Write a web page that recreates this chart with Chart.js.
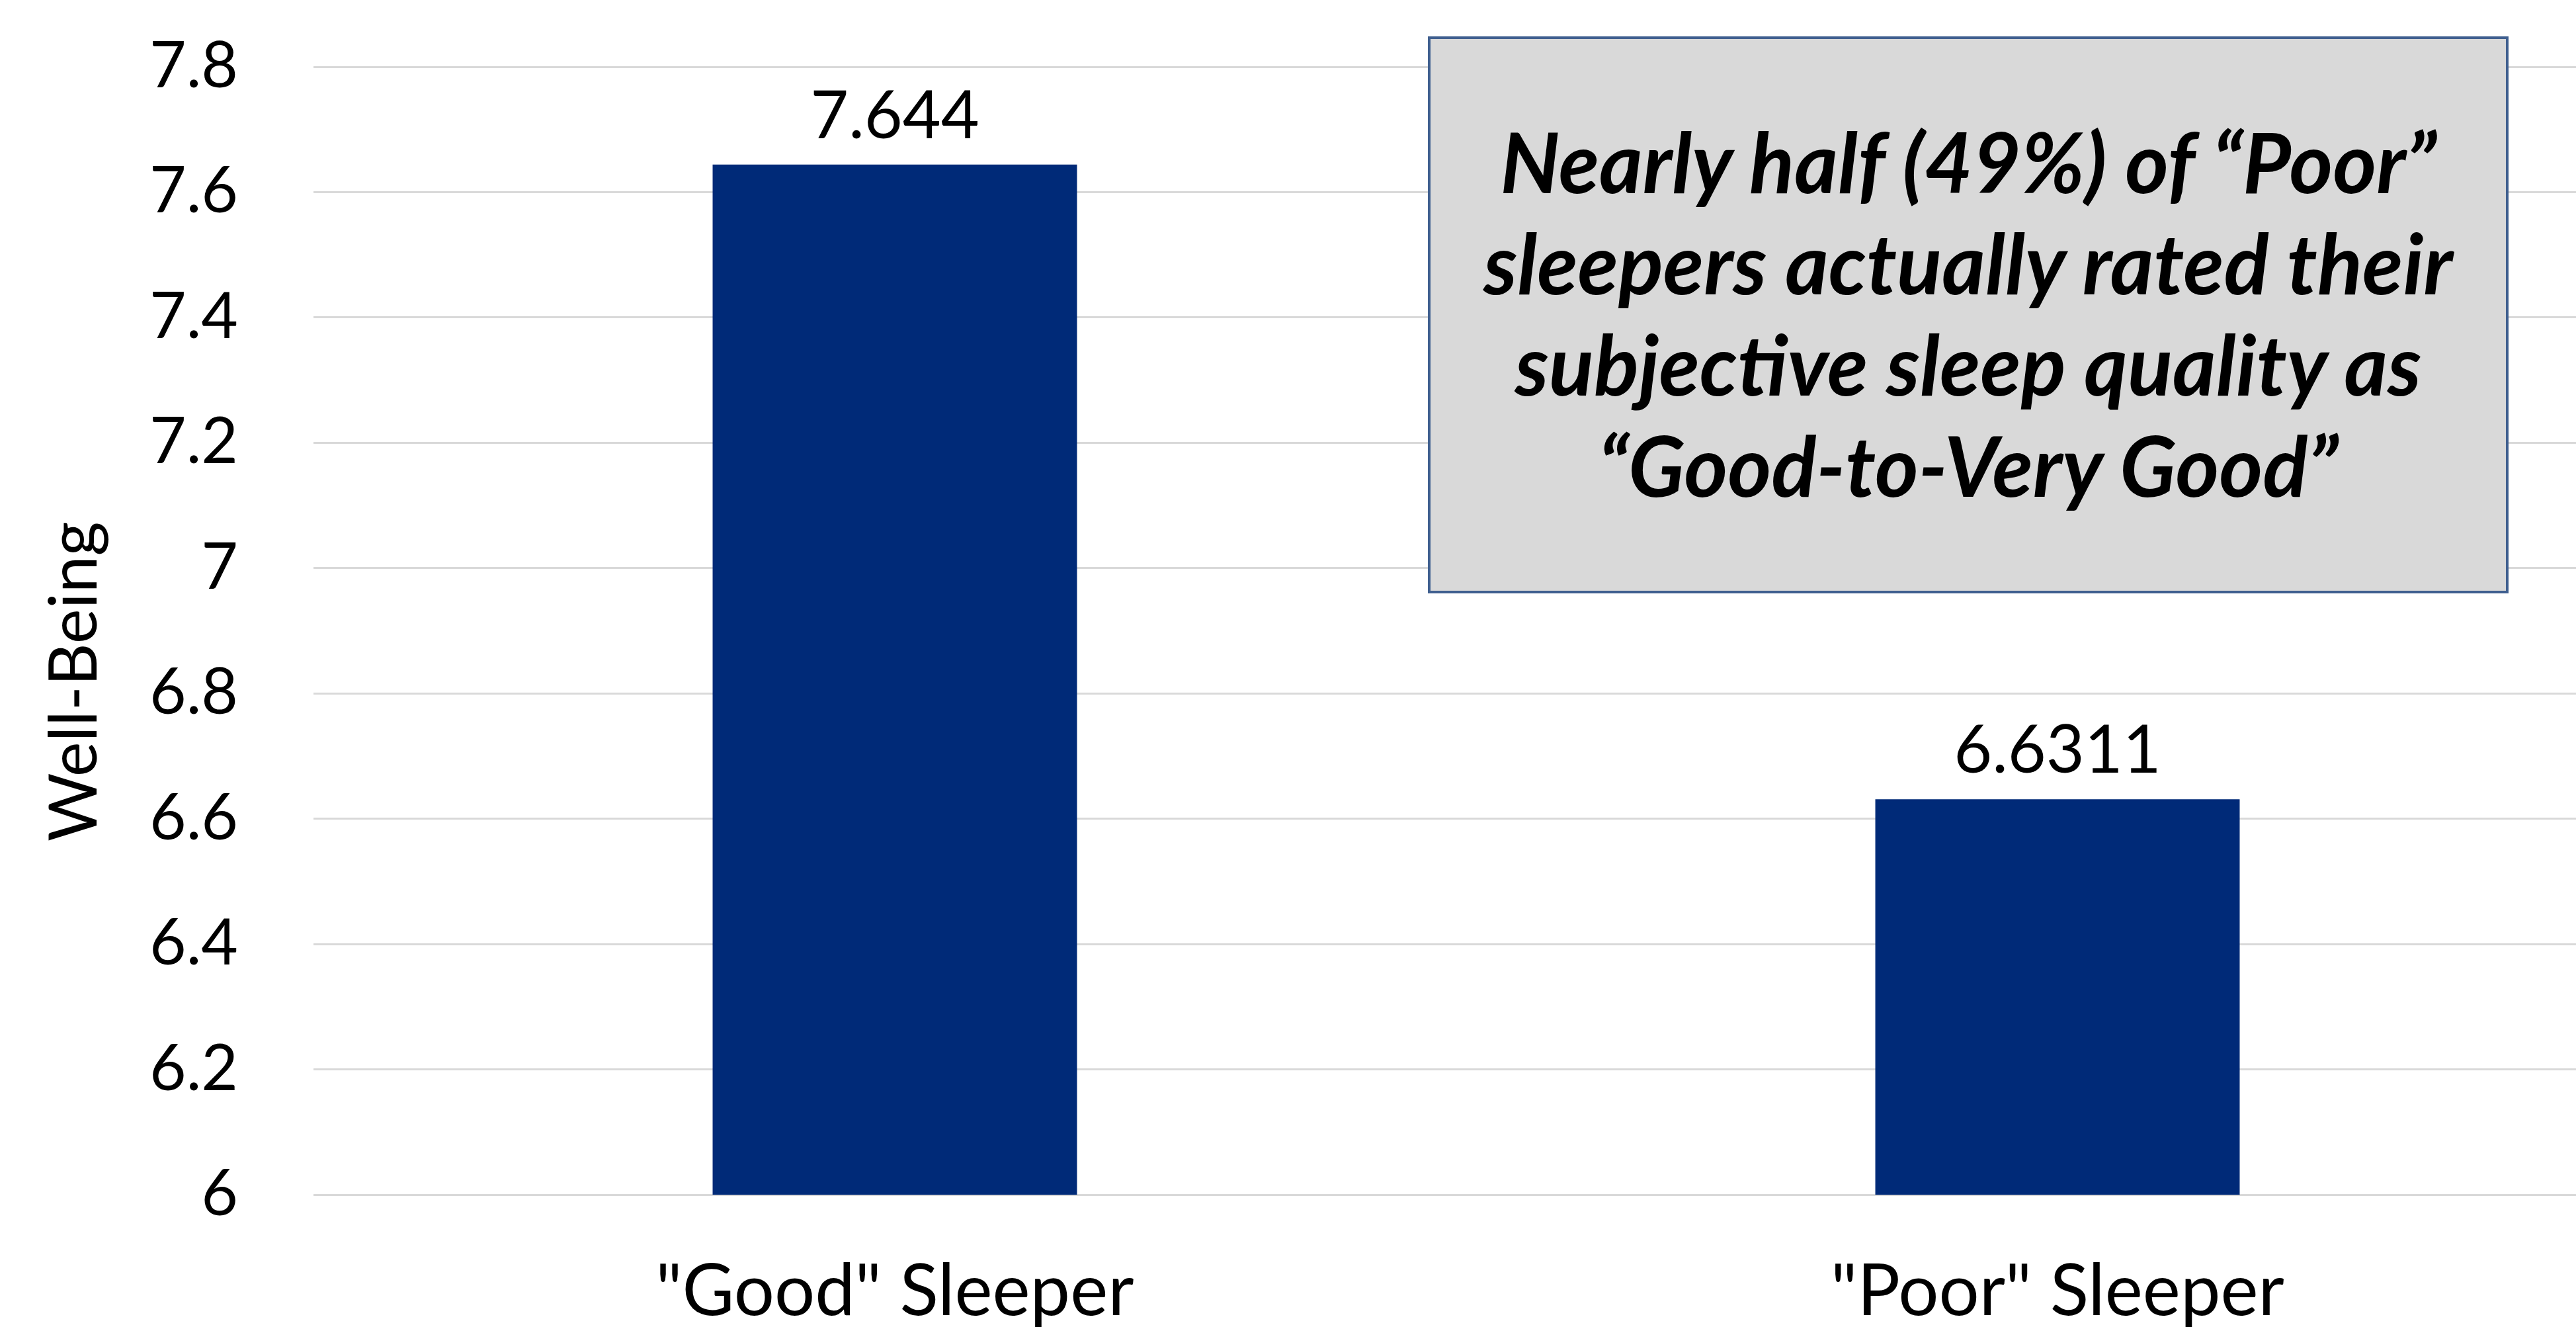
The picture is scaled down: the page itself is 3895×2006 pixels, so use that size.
<!DOCTYPE html>
<html>
<head>
<meta charset="utf-8">
<script src="https://cdn.jsdelivr.net/npm/chart.js@4"></script>
<style>
  html, body { margin: 0; padding: 0; background: #fff; overflow: hidden; }
  #wrap { position: relative; width: 3895px; height: 2006px; overflow: hidden; }
  #chart { position: absolute; left: 0; top: 0; }
  #note {
    position: absolute; left: 2159px; top: 55px; width: 1634px; height: 842px;
    box-sizing: border-box; background: #d9d9d9; border: 4px solid #3f5f8f;
    font-family: Lato, "Open Sans", sans-serif; font-weight: 700; font-style: italic;
    font-size: 126px; line-height: 153px; color: #000; text-align: center;
    padding-top: 108px; white-space: nowrap;
  }
</style>
</head>
<body>
<div id="wrap">
  <canvas id="chart" width="3990" height="2006"></canvas>
  <div id="note">Nearly half (49%) of “Poor”<br>sleepers actually rated their<br>subjective sleep quality as<br>“Good-to-Very Good”</div>
</div>
<script>
// chart data
var CATEGORIES = ['"Good" Sleeper', '"Poor" Sleeper'];
var WELL_BEING = [7.644, 6.6311];
var Y_MIN = 6;
var Y_MAX = 7.8;
var Y_STEP = 0.2;

var BAR_COLOR = '#002a78';
var FONT = 'Lato, "Open Sans", sans-serif';

/**
 * Writes each bar's value just above it.
 */
var valueLabels = {
  id: 'valueLabels',
  afterDatasetsDraw: function (chart) {
    var ctx = chart.ctx;
    var meta = chart.getDatasetMeta(0);
    ctx.save();
    ctx.font = '100px ' + FONT;
    ctx.fillStyle = '#000';
    ctx.textAlign = 'center';
    ctx.textBaseline = 'alphabetic';
    meta.data.forEach(function (bar, i) {
      ctx.fillText(String(WELL_BEING[i]), bar.x, bar.y - 40);
    });
    ctx.restore();
  },
};

new Chart(document.getElementById('chart'), {
  type: 'bar',
  data: {
    labels: CATEGORIES,
    datasets: [{
      data: WELL_BEING,
      backgroundColor: BAR_COLOR,
      borderWidth: 0,
      categoryPercentage: 1,
      barPercentage: 0.3134,
    }],
  },
  options: {
    responsive: false,
    animation: false,
    devicePixelRatio: 1,
    layout: { padding: { top: 101, left: 54, right: 0, bottom: 0 } },
    plugins: {
      legend: { display: false },
      tooltip: { enabled: false },
    },
    scales: {
      x: {
        grid: { display: false, drawTicks: false },
        border: { display: false },
        ticks: { color: '#000', padding: 82, font: { family: FONT, size: 108 } },
        afterFit: function (scale) { scale.height = 200; },
      },
      y: {
        min: Y_MIN,
        max: Y_MAX,
        grid: { color: '#d9d9d9', lineWidth: 3, drawTicks: false },
        border: { display: false },
        ticks: {
          stepSize: Y_STEP,
          color: '#000',
          padding: 114,
          font: { family: FONT, size: 96 },
          callback: function (v) { return String(Math.round(v * 10) / 10); },
        },
        title: {
          display: true,
          text: 'Well-Being      ',
          color: '#000',
          padding: { top: 0, bottom: 0 },
          font: { family: FONT, size: 100 },
        },
        afterFit: function (scale) {
          scale.width = 420;
          scale.paddingTop = 0;
          scale.paddingBottom = 0;
        },
      },
    },
  },
  plugins: [valueLabels],
});
</script>
</body>
</html>
